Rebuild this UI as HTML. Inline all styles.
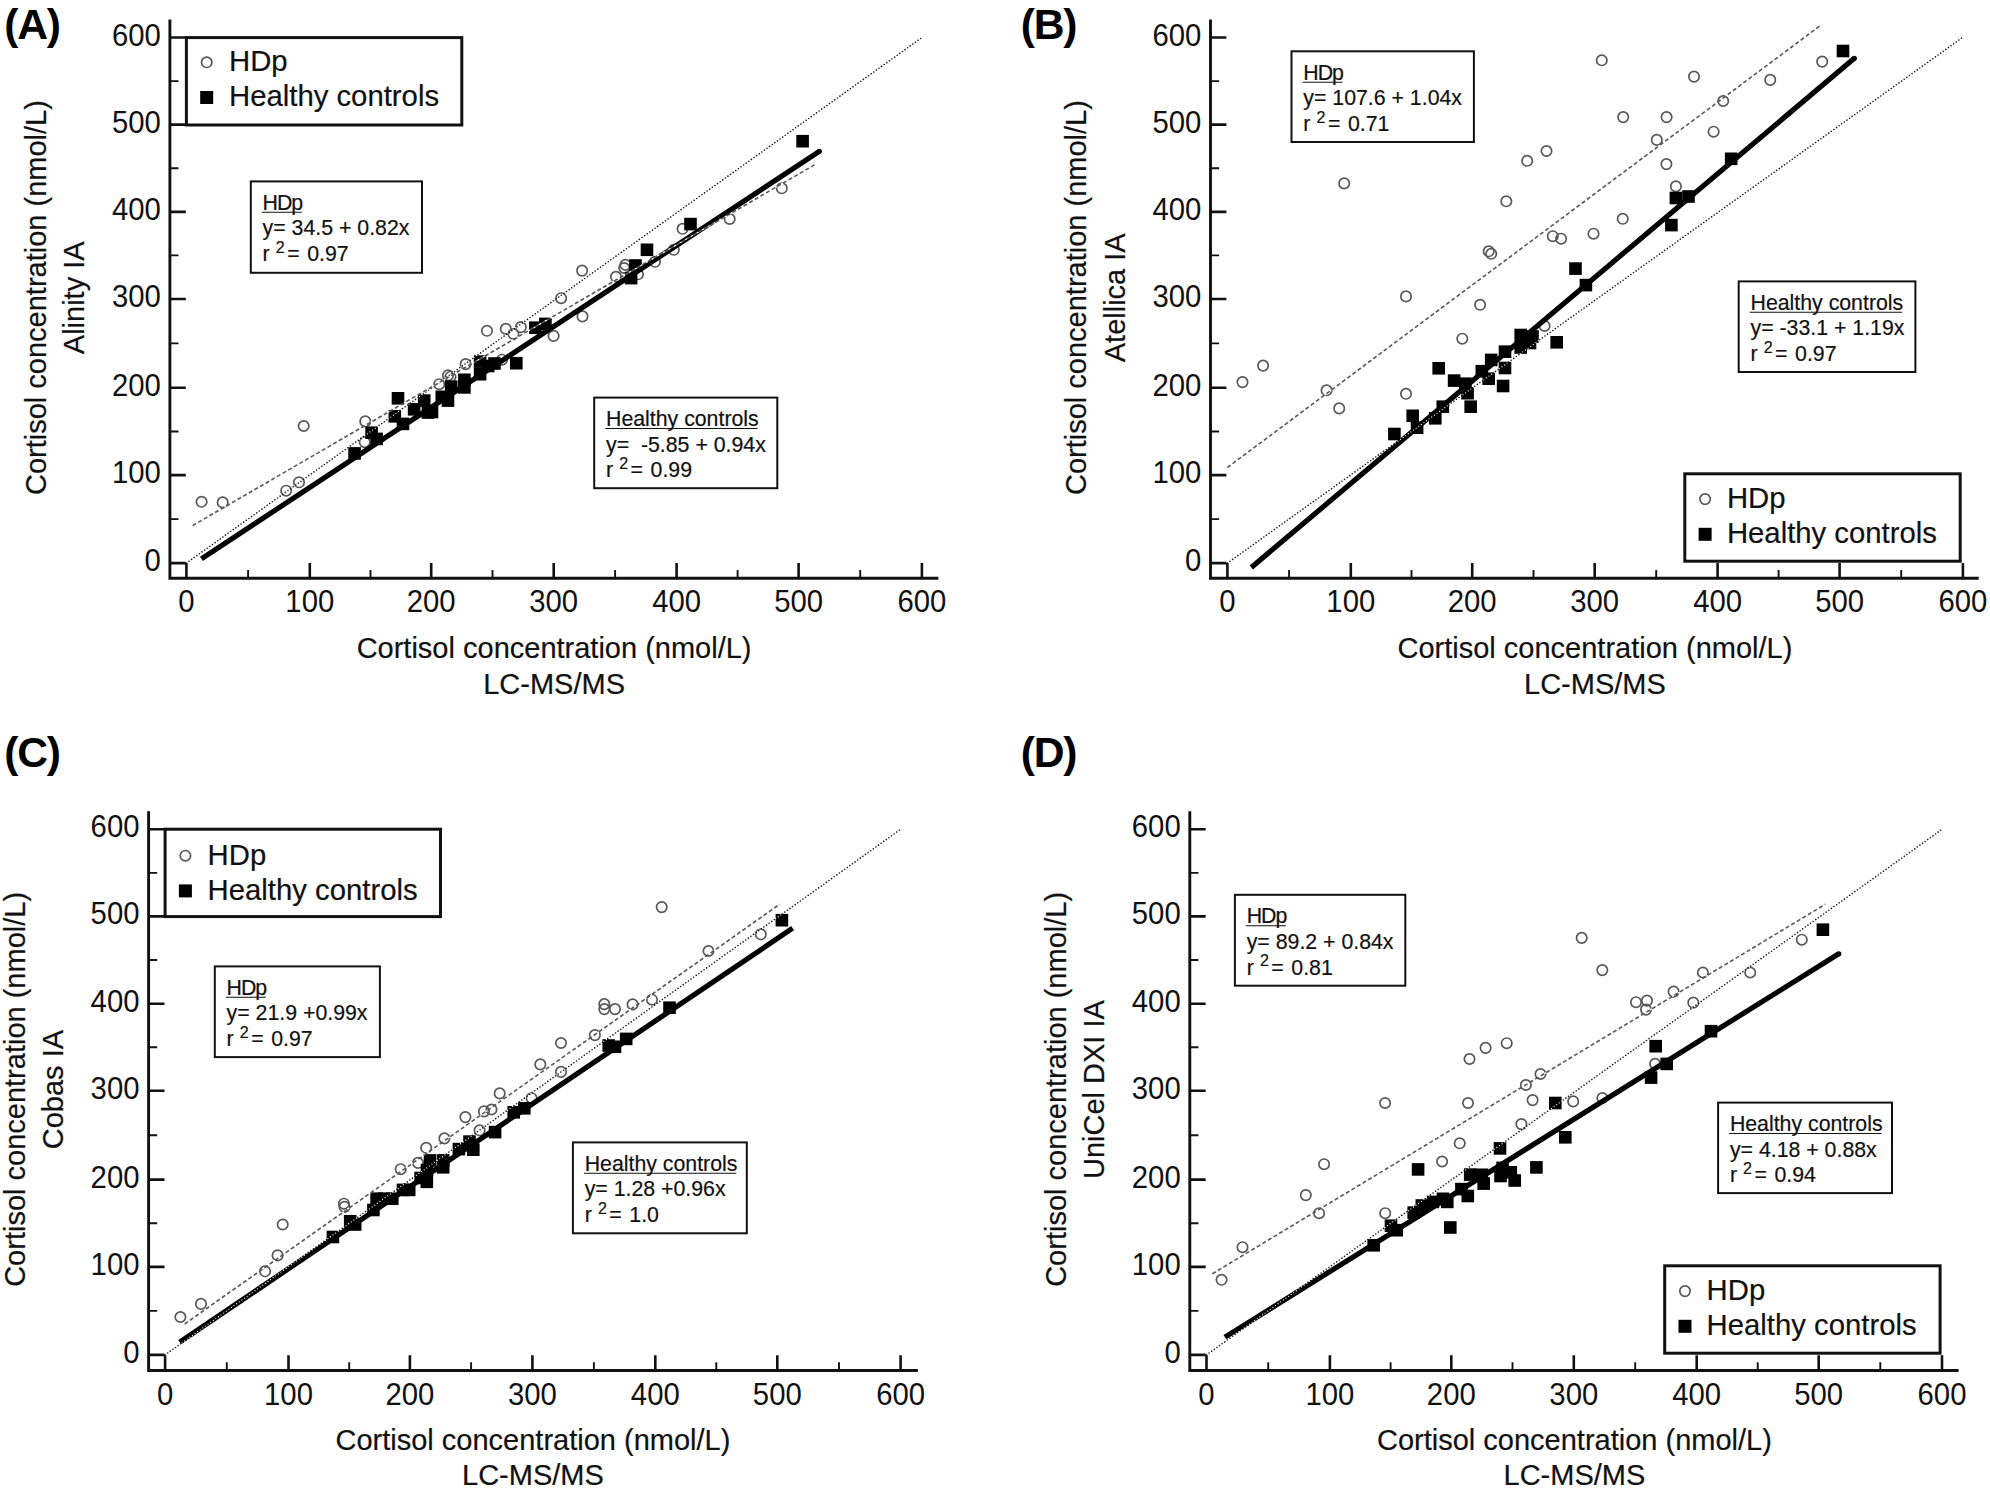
<!DOCTYPE html>
<html lang="en"><head><meta charset="utf-8"><title>Cortisol immunoassay comparison</title>
<style>html,body{margin:0;padding:0;background:#fff}body{width:1990px;height:1489px;overflow:hidden}svg{display:block}text{font-family:"Liberation Sans", Arial, Helvetica, sans-serif;fill:#111;stroke:#111;stroke-width:0.2px}.tk{font-size:30.5px;stroke:none}.tt{font-size:29px}.lg{font-size:29.3px}.eq{font-size:21.3px;white-space:pre}.pl{font-size:42.6px;font-weight:bold;fill:#000;stroke:none;letter-spacing:-1.2px}</style></head><body>
<svg width="1990" height="1489" viewBox="0 0 1990 1489">
<rect width="1990" height="1489" fill="#fff"/>
<g><g fill="none" stroke="#585858" stroke-width="1.7"><circle cx="201.6" cy="501.8" r="5.2"/><circle cx="222.7" cy="502.4" r="5.2"/><circle cx="286.2" cy="490.7" r="5.2"/><circle cx="299.0" cy="482.3" r="5.2"/><circle cx="303.7" cy="426.0" r="5.2"/><circle cx="365.3" cy="421.4" r="5.2"/><circle cx="364.7" cy="442.1" r="5.2"/><circle cx="439.2" cy="384.2" r="5.2"/><circle cx="448.0" cy="375.4" r="5.2"/><circle cx="450.5" cy="376.7" r="5.2"/><circle cx="465.6" cy="364.1" r="5.2"/><circle cx="487.0" cy="330.8" r="5.2"/><circle cx="505.8" cy="328.9" r="5.2"/><circle cx="513.4" cy="334.0" r="5.2"/><circle cx="520.9" cy="327.1" r="5.2"/><circle cx="553.6" cy="335.9" r="5.2"/><circle cx="561.1" cy="298.2" r="5.2"/><circle cx="582.5" cy="316.4" r="5.2"/><circle cx="502.0" cy="359.7" r="5.2"/><circle cx="582.1" cy="270.6" r="5.2"/><circle cx="616.0" cy="276.8" r="5.2"/><circle cx="625.4" cy="264.9" r="5.2"/><circle cx="624.2" cy="268.0" r="5.2"/><circle cx="638.0" cy="274.3" r="5.2"/><circle cx="655.0" cy="261.8" r="5.2"/><circle cx="673.8" cy="249.8" r="5.2"/><circle cx="682.6" cy="228.8" r="5.2"/><circle cx="729.7" cy="219.0" r="5.2"/><circle cx="781.8" cy="188.3" r="5.2"/></g><g fill="#000"><rect x="348.3" y="447.1" width="12.6" height="12.6"/><rect x="365.3" y="426.4" width="12.6" height="12.6"/><rect x="370.3" y="432.6" width="12.6" height="12.6"/><rect x="388.5" y="410.0" width="12.6" height="12.6"/><rect x="396.7" y="417.6" width="12.6" height="12.6"/><rect x="391.7" y="392.0" width="12.6" height="12.6"/><rect x="407.8" y="403.0" width="12.6" height="12.6"/><rect x="417.9" y="394.3" width="12.6" height="12.6"/><rect x="421.6" y="406.2" width="12.6" height="12.6"/><rect x="425.7" y="405.7" width="12.6" height="12.6"/><rect x="435.5" y="390.5" width="12.6" height="12.6"/><rect x="441.7" y="394.3" width="12.6" height="12.6"/><rect x="444.9" y="380.4" width="12.6" height="12.6"/><rect x="458.1" y="373.5" width="12.6" height="12.6"/><rect x="458.1" y="381.1" width="12.6" height="12.6"/><rect x="473.8" y="355.3" width="12.6" height="12.6"/><rect x="473.8" y="367.9" width="12.6" height="12.6"/><rect x="481.9" y="359.7" width="12.6" height="12.6"/><rect x="488.2" y="357.2" width="12.6" height="12.6"/><rect x="510.0" y="356.9" width="12.6" height="12.6"/><rect x="529.1" y="321.4" width="12.6" height="12.6"/><rect x="539.1" y="317.6" width="12.6" height="12.6"/><rect x="624.8" y="271.8" width="12.6" height="12.6"/><rect x="629.2" y="259.2" width="12.6" height="12.6"/><rect x="640.7" y="243.5" width="12.6" height="12.6"/><rect x="684.2" y="217.8" width="12.6" height="12.6"/><rect x="796.3" y="134.9" width="12.6" height="12.6"/></g><line x1="201.4" y1="558.9" x2="819.3" y2="151.3" stroke="#000" stroke-width="5.2"/><circle cx="819.3" cy="151.3" r="2.6" fill="#000"/><line x1="186.4" y1="563.1" x2="921.9" y2="37.6" stroke="#fff" stroke-width="1.3" stroke-linecap="round" stroke-dasharray="0 3.2" stroke-dashoffset="1.6"/><line x1="186.4" y1="563.1" x2="921.9" y2="37.6" stroke="#111" stroke-width="1.65" stroke-linecap="round" stroke-dasharray="0 3.2"/><line x1="192.6" y1="525.6" x2="815.6" y2="164.2" stroke="#fff" stroke-width="1.2" stroke-dasharray="2.5 4" stroke-dashoffset="-4"/><line x1="192.6" y1="525.6" x2="815.6" y2="164.2" stroke="#585858" stroke-width="1.6" stroke-dasharray="4 2.5"/><g stroke="#111" fill="none"><path d="M169.9 19.6 V578.3 H938.4" stroke-width="2.9" stroke-linejoin="miter"/><path d="M169.9 563.1 h15.9 M186.4 578.3 v-15.3 M169.9 475.1 h15.9 M309.8 578.3 v-15.3 M169.9 387.8 h15.9 M431.2 578.3 v-15.3 M169.9 299.0 h15.9 M553.7 578.3 v-15.3 M169.9 211.9 h15.9 M676.6 578.3 v-15.3 M169.9 124.6 h15.9 M798.6 578.3 v-15.3 M169.9 37.5 h15.9 M921.9 578.3 v-15.3 " stroke-width="2.6"/><path d="M169.9 519.1 h8.6 M248.1 578.3 v-8.3 M169.9 431.5 h8.6 M370.5 578.3 v-8.3 M169.9 343.4 h8.6 M492.5 578.3 v-8.3 M169.9 255.4 h8.6 M615.1 578.3 v-8.3 M169.9 168.2 h8.6 M737.6 578.3 v-8.3 M169.9 81.1 h8.6 M860.2 578.3 v-8.3 " stroke-width="1.9"/></g><text class="tk" text-anchor="end" transform="translate(160.8 571.1) scale(.961 1)">0</text><text class="tk" text-anchor="middle" transform="translate(186.4 612.3) scale(.961 1)">0</text><text class="tk" text-anchor="end" transform="translate(160.8 483.1) scale(.961 1)">100</text><text class="tk" text-anchor="middle" transform="translate(309.8 612.3) scale(.961 1)">100</text><text class="tk" text-anchor="end" transform="translate(160.8 395.8) scale(.961 1)">200</text><text class="tk" text-anchor="middle" transform="translate(431.2 612.3) scale(.961 1)">200</text><text class="tk" text-anchor="end" transform="translate(160.8 307.0) scale(.961 1)">300</text><text class="tk" text-anchor="middle" transform="translate(553.7 612.3) scale(.961 1)">300</text><text class="tk" text-anchor="end" transform="translate(160.8 219.9) scale(.961 1)">400</text><text class="tk" text-anchor="middle" transform="translate(676.6 612.3) scale(.961 1)">400</text><text class="tk" text-anchor="end" transform="translate(160.8 132.6) scale(.961 1)">500</text><text class="tk" text-anchor="middle" transform="translate(798.6 612.3) scale(.961 1)">500</text><text class="tk" text-anchor="end" transform="translate(160.8 45.5) scale(.961 1)">600</text><text class="tk" text-anchor="middle" transform="translate(921.9 612.3) scale(.961 1)">600</text><text class="tt" text-anchor="middle" x="554.1" y="658.2">Cortisol concentration (nmol/L)</text><text class="tt" text-anchor="middle" x="554.1" y="693.6">LC-MS/MS</text><text class="tt" text-anchor="middle" transform="translate(45.8 297.6) rotate(-90)">Cortisol concentration (nmol/L)</text><text class="tt" text-anchor="middle" transform="translate(84.2 297.8) rotate(-90)">Alinity IA</text><text class="pl" x="4.2" y="38.8">(A)</text><rect x="186.4" y="37.6" width="275.4" height="87.4" fill="#fff" stroke="#111" stroke-width="3"/><circle cx="206.7" cy="62.3" r="5.2" fill="none" stroke="#585858" stroke-width="1.7"/><rect x="200.2" y="91.0" width="13" height="13" fill="#000"/><text class="lg" x="229.0" y="71.1">HDp</text><text class="lg" x="229.0" y="106.3">Healthy controls</text><rect x="250.8" y="181.4" width="171.2" height="91.4" fill="#fff" stroke="#111" stroke-width="2"/><text class="eq" letter-spacing="-1" x="262.6" y="209.6">HDp</text><line x1="261.8" y1="212.3" x2="301.8" y2="212.3" stroke="#111" stroke-width="1.1"/><text class="eq" x="262.6" y="235.3" xml:space="preserve">y= 34.5 + 0.82x</text><text class="eq" y="261.2" xml:space="preserve"><tspan x="262.6">r</tspan><tspan x="275.8" dy="-8.2" font-size="16">2</tspan><tspan x="287.2" dy="8.2">=</tspan><tspan x="307.2">0.97</tspan></text><rect x="594.2" y="397.6" width="183.1" height="90.6" fill="#fff" stroke="#111" stroke-width="2"/><text class="eq" x="606.0" y="425.8">Healthy controls</text><line x1="605.2" y1="428.5" x2="757.6" y2="428.5" stroke="#111" stroke-width="1.1"/><text class="eq" x="606.0" y="451.5" xml:space="preserve">y=  -5.85 + 0.94x</text><text class="eq" y="477.4" xml:space="preserve"><tspan x="606.0">r</tspan><tspan x="619.2" dy="-8.2" font-size="16">2</tspan><tspan x="630.6" dy="8.2">=</tspan><tspan x="650.6">0.99</tspan></text></g>
<g><g fill="none" stroke="#585858" stroke-width="1.7"><circle cx="1601.8" cy="60.3" r="5.2"/><circle cx="1694.0" cy="76.6" r="5.2"/><circle cx="1770.2" cy="79.9" r="5.2"/><circle cx="1822.2" cy="61.6" r="5.2"/><circle cx="1723.2" cy="101.0" r="5.2"/><circle cx="1623.2" cy="117.1" r="5.2"/><circle cx="1666.6" cy="117.1" r="5.2"/><circle cx="1713.6" cy="131.7" r="5.2"/><circle cx="1656.8" cy="139.9" r="5.2"/><circle cx="1546.5" cy="151.0" r="5.2"/><circle cx="1527.2" cy="160.8" r="5.2"/><circle cx="1666.4" cy="164.1" r="5.2"/><circle cx="1675.9" cy="186.4" r="5.2"/><circle cx="1506.3" cy="201.3" r="5.2"/><circle cx="1622.7" cy="218.8" r="5.2"/><circle cx="1593.5" cy="233.7" r="5.2"/><circle cx="1552.8" cy="236.2" r="5.2"/><circle cx="1561.1" cy="238.7" r="5.2"/><circle cx="1488.7" cy="251.3" r="5.2"/><circle cx="1491.2" cy="253.8" r="5.2"/><circle cx="1544.6" cy="326.0" r="5.2"/><circle cx="1344.2" cy="183.4" r="5.2"/><circle cx="1406.0" cy="296.4" r="5.2"/><circle cx="1480.1" cy="304.8" r="5.2"/><circle cx="1462.3" cy="338.7" r="5.2"/><circle cx="1263.1" cy="365.6" r="5.2"/><circle cx="1242.5" cy="382.1" r="5.2"/><circle cx="1326.6" cy="390.3" r="5.2"/><circle cx="1339.2" cy="408.4" r="5.2"/><circle cx="1406.0" cy="393.8" r="5.2"/></g><g fill="#000"><rect x="1836.7" y="44.7" width="12.6" height="12.6"/><rect x="1724.9" y="152.5" width="12.6" height="12.6"/><rect x="1669.6" y="191.7" width="12.6" height="12.6"/><rect x="1682.2" y="190.2" width="12.6" height="12.6"/><rect x="1665.1" y="218.8" width="12.6" height="12.6"/><rect x="1569.2" y="262.3" width="12.6" height="12.6"/><rect x="1579.6" y="278.8" width="12.6" height="12.6"/><rect x="1550.4" y="336.0" width="12.6" height="12.6"/><rect x="1514.4" y="328.7" width="12.6" height="12.6"/><rect x="1526.2" y="330.2" width="12.6" height="12.6"/><rect x="1514.4" y="341.2" width="12.6" height="12.6"/><rect x="1523.7" y="336.7" width="12.6" height="12.6"/><rect x="1498.7" y="345.4" width="12.6" height="12.6"/><rect x="1484.9" y="353.6" width="12.6" height="12.6"/><rect x="1498.7" y="361.7" width="12.6" height="12.6"/><rect x="1475.5" y="364.9" width="12.6" height="12.6"/><rect x="1482.4" y="372.4" width="12.6" height="12.6"/><rect x="1496.8" y="379.7" width="12.6" height="12.6"/><rect x="1432.4" y="362.0" width="12.6" height="12.6"/><rect x="1447.8" y="374.3" width="12.6" height="12.6"/><rect x="1459.1" y="377.4" width="12.6" height="12.6"/><rect x="1461.3" y="386.9" width="12.6" height="12.6"/><rect x="1464.4" y="400.4" width="12.6" height="12.6"/><rect x="1436.5" y="400.4" width="12.6" height="12.6"/><rect x="1406.4" y="409.5" width="12.6" height="12.6"/><rect x="1429.0" y="412.0" width="12.6" height="12.6"/><rect x="1410.8" y="421.4" width="12.6" height="12.6"/><rect x="1388.1" y="427.7" width="12.6" height="12.6"/></g><line x1="1251.3" y1="567.5" x2="1854.3" y2="58.3" stroke="#000" stroke-width="5.2"/><circle cx="1854.3" cy="58.3" r="2.6" fill="#000"/><line x1="1227.4" y1="563.1" x2="1962.4" y2="37.6" stroke="#fff" stroke-width="1.3" stroke-linecap="round" stroke-dasharray="0 3.2" stroke-dashoffset="1.6"/><line x1="1227.4" y1="563.1" x2="1962.4" y2="37.6" stroke="#111" stroke-width="1.65" stroke-linecap="round" stroke-dasharray="0 3.2"/><line x1="1227.4" y1="467.5" x2="1821.7" y2="24.6" stroke="#fff" stroke-width="1.2" stroke-dasharray="2.5 4" stroke-dashoffset="-4"/><line x1="1227.4" y1="467.5" x2="1821.7" y2="24.6" stroke="#585858" stroke-width="1.6" stroke-dasharray="4 2.5"/><g stroke="#111" fill="none"><path d="M1210.5 19.6 V578.3 H1978.7" stroke-width="2.9" stroke-linejoin="miter"/><path d="M1210.5 563.1 h15.9 M1227.4 578.3 v-15.3 M1210.5 475.1 h15.9 M1350.8 578.3 v-15.3 M1210.5 387.8 h15.9 M1472.2 578.3 v-15.3 M1210.5 299.0 h15.9 M1594.7 578.3 v-15.3 M1210.5 211.9 h15.9 M1717.6 578.3 v-15.3 M1210.5 124.6 h15.9 M1839.6 578.3 v-15.3 M1210.5 37.5 h15.9 M1962.9 578.3 v-15.3 " stroke-width="2.6"/><path d="M1210.5 519.1 h8.6 M1289.1 578.3 v-8.3 M1210.5 431.5 h8.6 M1411.5 578.3 v-8.3 M1210.5 343.4 h8.6 M1533.5 578.3 v-8.3 M1210.5 255.4 h8.6 M1656.2 578.3 v-8.3 M1210.5 168.2 h8.6 M1778.6 578.3 v-8.3 M1210.5 81.1 h8.6 M1901.2 578.3 v-8.3 " stroke-width="1.9"/></g><text class="tk" text-anchor="end" transform="translate(1201.4 571.1) scale(.961 1)">0</text><text class="tk" text-anchor="middle" transform="translate(1227.4 612.3) scale(.961 1)">0</text><text class="tk" text-anchor="end" transform="translate(1201.4 483.1) scale(.961 1)">100</text><text class="tk" text-anchor="middle" transform="translate(1350.8 612.3) scale(.961 1)">100</text><text class="tk" text-anchor="end" transform="translate(1201.4 395.8) scale(.961 1)">200</text><text class="tk" text-anchor="middle" transform="translate(1472.2 612.3) scale(.961 1)">200</text><text class="tk" text-anchor="end" transform="translate(1201.4 307.0) scale(.961 1)">300</text><text class="tk" text-anchor="middle" transform="translate(1594.7 612.3) scale(.961 1)">300</text><text class="tk" text-anchor="end" transform="translate(1201.4 219.9) scale(.961 1)">400</text><text class="tk" text-anchor="middle" transform="translate(1717.6 612.3) scale(.961 1)">400</text><text class="tk" text-anchor="end" transform="translate(1201.4 132.6) scale(.961 1)">500</text><text class="tk" text-anchor="middle" transform="translate(1839.6 612.3) scale(.961 1)">500</text><text class="tk" text-anchor="end" transform="translate(1201.4 45.5) scale(.961 1)">600</text><text class="tk" text-anchor="middle" transform="translate(1962.9 612.3) scale(.961 1)">600</text><text class="tt" text-anchor="middle" x="1594.9" y="658.2">Cortisol concentration (nmol/L)</text><text class="tt" text-anchor="middle" x="1594.9" y="693.6">LC-MS/MS</text><text class="tt" text-anchor="middle" transform="translate(1086.4 297.6) rotate(-90)">Cortisol concentration (nmol/L)</text><text class="tt" text-anchor="middle" transform="translate(1124.8 297.8) rotate(-90)">Atellica IA</text><text class="pl" x="1020.7" y="38.8">(B)</text><rect x="1684.8" y="473.8" width="275.4" height="87.4" fill="#fff" stroke="#111" stroke-width="3"/><circle cx="1705.1" cy="499.1" r="5.2" fill="none" stroke="#585858" stroke-width="1.7"/><rect x="1698.6" y="527.8" width="13" height="13" fill="#000"/><text class="lg" x="1726.9" y="507.9">HDp</text><text class="lg" x="1726.9" y="543.1">Healthy controls</text><rect x="1291.5" y="51.3" width="182.4" height="90.7" fill="#fff" stroke="#111" stroke-width="2"/><text class="eq" letter-spacing="-1" x="1303.3" y="79.5">HDp</text><line x1="1302.5" y1="82.2" x2="1342.5" y2="82.2" stroke="#111" stroke-width="1.1"/><text class="eq" x="1303.3" y="105.2" xml:space="preserve">y= 107.6 + 1.04x</text><text class="eq" y="131.1" xml:space="preserve"><tspan x="1303.3">r</tspan><tspan x="1316.5" dy="-8.2" font-size="16">2</tspan><tspan x="1327.9" dy="8.2">=</tspan><tspan x="1347.9">0.71</tspan></text><rect x="1738.7" y="281.4" width="176.7" height="90.6" fill="#fff" stroke="#111" stroke-width="2"/><text class="eq" x="1750.5" y="309.6">Healthy controls</text><line x1="1749.7" y1="312.3" x2="1902.1" y2="312.3" stroke="#111" stroke-width="1.1"/><text class="eq" x="1750.5" y="335.3" xml:space="preserve">y= -33.1 + 1.19x</text><text class="eq" y="361.2" xml:space="preserve"><tspan x="1750.5">r</tspan><tspan x="1763.7" dy="-8.2" font-size="16">2</tspan><tspan x="1775.1" dy="8.2">=</tspan><tspan x="1795.1">0.97</tspan></text></g>
<g><g fill="none" stroke="#585858" stroke-width="1.7"><circle cx="180.4" cy="1317.0" r="5.2"/><circle cx="201.0" cy="1303.9" r="5.2"/><circle cx="265.1" cy="1271.3" r="5.2"/><circle cx="277.6" cy="1255.4" r="5.2"/><circle cx="282.7" cy="1224.5" r="5.2"/><circle cx="343.9" cy="1203.7" r="5.2"/><circle cx="344.5" cy="1206.9" r="5.2"/><circle cx="400.7" cy="1169.2" r="5.2"/><circle cx="418.0" cy="1162.9" r="5.2"/><circle cx="426.2" cy="1147.8" r="5.2"/><circle cx="444.4" cy="1138.4" r="5.2"/><circle cx="465.4" cy="1117.1" r="5.2"/><circle cx="479.6" cy="1130.3" r="5.2"/><circle cx="484.0" cy="1111.4" r="5.2"/><circle cx="491.5" cy="1109.5" r="5.2"/><circle cx="499.7" cy="1093.4" r="5.2"/><circle cx="531.6" cy="1098.2" r="5.2"/><circle cx="540.3" cy="1064.4" r="5.2"/><circle cx="561.0" cy="1043.0" r="5.2"/><circle cx="561.0" cy="1071.9" r="5.2"/><circle cx="594.9" cy="1035.1" r="5.2"/><circle cx="604.3" cy="1004.1" r="5.2"/><circle cx="604.3" cy="1009.1" r="5.2"/><circle cx="615.0" cy="1009.1" r="5.2"/><circle cx="632.6" cy="1004.4" r="5.2"/><circle cx="652.0" cy="999.7" r="5.2"/><circle cx="708.5" cy="951.0" r="5.2"/><circle cx="661.7" cy="907.1" r="5.2"/><circle cx="760.8" cy="934.3" r="5.2"/></g><g fill="#000"><rect x="326.6" y="1230.7" width="12.6" height="12.6"/><rect x="343.9" y="1215.0" width="12.6" height="12.6"/><rect x="348.9" y="1218.2" width="12.6" height="12.6"/><rect x="367.1" y="1203.7" width="12.6" height="12.6"/><rect x="370.3" y="1192.4" width="12.6" height="12.6"/><rect x="377.7" y="1192.4" width="12.6" height="12.6"/><rect x="386.0" y="1192.4" width="12.6" height="12.6"/><rect x="396.7" y="1183.6" width="12.6" height="12.6"/><rect x="402.9" y="1183.6" width="12.6" height="12.6"/><rect x="414.3" y="1171.7" width="12.6" height="12.6"/><rect x="420.5" y="1175.5" width="12.6" height="12.6"/><rect x="423.7" y="1154.1" width="12.6" height="12.6"/><rect x="420.7" y="1163.7" width="12.6" height="12.6"/><rect x="436.9" y="1154.1" width="12.6" height="12.6"/><rect x="436.9" y="1161.0" width="12.6" height="12.6"/><rect x="452.6" y="1142.8" width="12.6" height="12.6"/><rect x="463.2" y="1135.3" width="12.6" height="12.6"/><rect x="467.0" y="1143.4" width="12.6" height="12.6"/><rect x="488.8" y="1125.8" width="12.6" height="12.6"/><rect x="507.4" y="1106.0" width="12.6" height="12.6"/><rect x="518.0" y="1102.0" width="12.6" height="12.6"/><rect x="602.4" y="1039.2" width="12.6" height="12.6"/><rect x="608.7" y="1040.5" width="12.6" height="12.6"/><rect x="619.9" y="1032.6" width="12.6" height="12.6"/><rect x="663.2" y="1001.4" width="12.6" height="12.6"/><rect x="775.6" y="913.9" width="12.6" height="12.6"/></g><line x1="179.7" y1="1342.2" x2="792.6" y2="928.2" stroke="#000" stroke-width="5.2"/><line x1="165.1" y1="1354.9" x2="900.8" y2="829.2" stroke="#fff" stroke-width="1.3" stroke-linecap="round" stroke-dasharray="0 3.2" stroke-dashoffset="1.6"/><line x1="165.1" y1="1354.9" x2="900.8" y2="829.2" stroke="#111" stroke-width="1.65" stroke-linecap="round" stroke-dasharray="0 3.2"/><line x1="184.7" y1="1324.0" x2="779.9" y2="904.1" stroke="#fff" stroke-width="1.2" stroke-dasharray="2.5 4" stroke-dashoffset="-4"/><line x1="184.7" y1="1324.0" x2="779.9" y2="904.1" stroke="#585858" stroke-width="1.6" stroke-dasharray="4 2.5"/><g stroke="#111" fill="none"><path d="M148.6 811.3 V1370.5 H917.9" stroke-width="2.9" stroke-linejoin="miter"/><path d="M148.6 1354.9 h15.9 M165.1 1370.5 v-15.3 M148.6 1266.9 h15.9 M288.5 1370.5 v-15.3 M148.6 1179.6 h15.9 M409.9 1370.5 v-15.3 M148.6 1090.8 h15.9 M532.4 1370.5 v-15.3 M148.6 1003.7 h15.9 M655.3 1370.5 v-15.3 M148.6 916.4 h15.9 M777.3 1370.5 v-15.3 M148.6 829.3 h15.9 M900.6 1370.5 v-15.3 " stroke-width="2.6"/><path d="M148.6 1310.9 h8.6 M226.8 1370.5 v-8.3 M148.6 1223.2 h8.6 M349.2 1370.5 v-8.3 M148.6 1135.2 h8.6 M471.1 1370.5 v-8.3 M148.6 1047.2 h8.6 M593.9 1370.5 v-8.3 M148.6 960.0 h8.6 M716.3 1370.5 v-8.3 M148.6 872.9 h8.6 M839.0 1370.5 v-8.3 " stroke-width="1.9"/></g><text class="tk" text-anchor="end" transform="translate(139.5 1362.9) scale(.961 1)">0</text><text class="tk" text-anchor="middle" transform="translate(165.1 1404.5) scale(.961 1)">0</text><text class="tk" text-anchor="end" transform="translate(139.5 1274.9) scale(.961 1)">100</text><text class="tk" text-anchor="middle" transform="translate(288.5 1404.5) scale(.961 1)">100</text><text class="tk" text-anchor="end" transform="translate(139.5 1187.6) scale(.961 1)">200</text><text class="tk" text-anchor="middle" transform="translate(409.9 1404.5) scale(.961 1)">200</text><text class="tk" text-anchor="end" transform="translate(139.5 1098.8) scale(.961 1)">300</text><text class="tk" text-anchor="middle" transform="translate(532.4 1404.5) scale(.961 1)">300</text><text class="tk" text-anchor="end" transform="translate(139.5 1011.7) scale(.961 1)">400</text><text class="tk" text-anchor="middle" transform="translate(655.3 1404.5) scale(.961 1)">400</text><text class="tk" text-anchor="end" transform="translate(139.5 924.4) scale(.961 1)">500</text><text class="tk" text-anchor="middle" transform="translate(777.3 1404.5) scale(.961 1)">500</text><text class="tk" text-anchor="end" transform="translate(139.5 837.3) scale(.961 1)">600</text><text class="tk" text-anchor="middle" transform="translate(900.6 1404.5) scale(.961 1)">600</text><text class="tt" text-anchor="middle" x="532.9" y="1450.4">Cortisol concentration (nmol/L)</text><text class="tt" text-anchor="middle" x="532.9" y="1484.8">LC-MS/MS</text><text class="tt" text-anchor="middle" transform="translate(24.5 1089.4) rotate(-90)">Cortisol concentration (nmol/L)</text><text class="tt" text-anchor="middle" transform="translate(62.9 1089.6) rotate(-90)">Cobas IA</text><text class="pl" x="4.2" y="767.2">(C)</text><rect x="165.1" y="829.2" width="275.4" height="87.4" fill="#fff" stroke="#111" stroke-width="3"/><circle cx="185.4" cy="855.7" r="5.2" fill="none" stroke="#585858" stroke-width="1.7"/><rect x="178.9" y="884.4" width="13" height="13" fill="#000"/><text class="lg" x="207.6" y="864.5">HDp</text><text class="lg" x="207.6" y="899.7">Healthy controls</text><rect x="214.8" y="966.4" width="165.1" height="90.7" fill="#fff" stroke="#111" stroke-width="2"/><text class="eq" letter-spacing="-1" x="226.6" y="994.6">HDp</text><line x1="225.8" y1="997.3" x2="265.8" y2="997.3" stroke="#111" stroke-width="1.1"/><text class="eq" x="226.6" y="1020.3" xml:space="preserve">y= 21.9 +0.99x</text><text class="eq" y="1046.2" xml:space="preserve"><tspan x="226.6">r</tspan><tspan x="239.8" dy="-8.2" font-size="16">2</tspan><tspan x="251.2" dy="8.2">=</tspan><tspan x="271.2">0.97</tspan></text><rect x="572.9" y="1142.4" width="173.9" height="90.9" fill="#fff" stroke="#111" stroke-width="2"/><text class="eq" x="584.7" y="1170.6">Healthy controls</text><line x1="583.9" y1="1173.3" x2="736.3" y2="1173.3" stroke="#111" stroke-width="1.1"/><text class="eq" x="584.7" y="1196.3" xml:space="preserve">y= 1.28 +0.96x</text><text class="eq" y="1222.2" xml:space="preserve"><tspan x="584.7">r</tspan><tspan x="597.9" dy="-8.2" font-size="16">2</tspan><tspan x="609.3" dy="8.2">=</tspan><tspan x="629.3">1.0</tspan></text></g>
<g><g fill="none" stroke="#585858" stroke-width="1.7"><circle cx="1221.6" cy="1279.8" r="5.2"/><circle cx="1242.5" cy="1247.2" r="5.2"/><circle cx="1305.8" cy="1195.1" r="5.2"/><circle cx="1319.1" cy="1213.2" r="5.2"/><circle cx="1324.1" cy="1164.2" r="5.2"/><circle cx="1385.2" cy="1213.2" r="5.2"/><circle cx="1442.1" cy="1161.5" r="5.2"/><circle cx="1459.7" cy="1143.3" r="5.2"/><circle cx="1385.1" cy="1103.0" r="5.2"/><circle cx="1468.0" cy="1103.0" r="5.2"/><circle cx="1521.4" cy="1124.1" r="5.2"/><circle cx="1525.9" cy="1085.0" r="5.2"/><circle cx="1532.6" cy="1100.1" r="5.2"/><circle cx="1573.2" cy="1101.4" r="5.2"/><circle cx="1602.4" cy="1098.0" r="5.2"/><circle cx="1581.7" cy="937.9" r="5.2"/><circle cx="1602.3" cy="970.1" r="5.2"/><circle cx="1801.8" cy="939.7" r="5.2"/><circle cx="1750.2" cy="972.5" r="5.2"/><circle cx="1702.9" cy="972.5" r="5.2"/><circle cx="1673.6" cy="991.6" r="5.2"/><circle cx="1693.3" cy="1002.6" r="5.2"/><circle cx="1636.0" cy="1002.2" r="5.2"/><circle cx="1647.0" cy="1000.6" r="5.2"/><circle cx="1646.0" cy="1009.6" r="5.2"/><circle cx="1506.7" cy="1043.2" r="5.2"/><circle cx="1485.6" cy="1047.9" r="5.2"/><circle cx="1469.5" cy="1059.0" r="5.2"/><circle cx="1540.5" cy="1074.0" r="5.2"/><circle cx="1655.1" cy="1063.9" r="5.2"/></g><g fill="#000"><rect x="1367.4" y="1239.0" width="12.6" height="12.6"/><rect x="1384.7" y="1219.4" width="12.6" height="12.6"/><rect x="1390.4" y="1223.9" width="12.6" height="12.6"/><rect x="1407.4" y="1206.3" width="12.6" height="12.6"/><rect x="1411.8" y="1163.1" width="12.6" height="12.6"/><rect x="1415.5" y="1199.2" width="12.6" height="12.6"/><rect x="1426.6" y="1195.6" width="12.6" height="12.6"/><rect x="1436.7" y="1192.5" width="12.6" height="12.6"/><rect x="1441.0" y="1195.6" width="12.6" height="12.6"/><rect x="1444.0" y="1221.2" width="12.6" height="12.6"/><rect x="1455.1" y="1182.8" width="12.6" height="12.6"/><rect x="1461.5" y="1189.7" width="12.6" height="12.6"/><rect x="1463.9" y="1168.3" width="12.6" height="12.6"/><rect x="1475.6" y="1168.5" width="12.6" height="12.6"/><rect x="1477.4" y="1177.3" width="12.6" height="12.6"/><rect x="1493.7" y="1142.1" width="12.6" height="12.6"/><rect x="1494.2" y="1169.7" width="12.6" height="12.6"/><rect x="1496.3" y="1161.6" width="12.6" height="12.6"/><rect x="1504.5" y="1166.0" width="12.6" height="12.6"/><rect x="1508.4" y="1174.2" width="12.6" height="12.6"/><rect x="1530.1" y="1161.1" width="12.6" height="12.6"/><rect x="1549.0" y="1096.7" width="12.6" height="12.6"/><rect x="1559.0" y="1131.0" width="12.6" height="12.6"/><rect x="1816.6" y="923.4" width="12.6" height="12.6"/><rect x="1704.7" y="1024.9" width="12.6" height="12.6"/><rect x="1649.4" y="1039.9" width="12.6" height="12.6"/><rect x="1660.4" y="1057.6" width="12.6" height="12.6"/><rect x="1644.8" y="1071.3" width="12.6" height="12.6"/></g><line x1="1224.9" y1="1337.1" x2="1838.8" y2="953.8" stroke="#000" stroke-width="5.2"/><circle cx="1838.8" cy="953.8" r="2.6" fill="#000"/><line x1="1206.5" y1="1354.9" x2="1942.3" y2="829.2" stroke="#fff" stroke-width="1.3" stroke-linecap="round" stroke-dasharray="0 3.2" stroke-dashoffset="1.6"/><line x1="1206.5" y1="1354.9" x2="1942.3" y2="829.2" stroke="#111" stroke-width="1.65" stroke-linecap="round" stroke-dasharray="0 3.2"/><line x1="1212.3" y1="1273.8" x2="1825.3" y2="904.3" stroke="#fff" stroke-width="1.2" stroke-dasharray="2.5 4" stroke-dashoffset="-4"/><line x1="1212.3" y1="1273.8" x2="1825.3" y2="904.3" stroke="#585858" stroke-width="1.6" stroke-dasharray="4 2.5"/><g stroke="#111" fill="none"><path d="M1189.8 811.3 V1370.5 H1958.6" stroke-width="2.9" stroke-linejoin="miter"/><path d="M1189.8 1354.9 h15.9 M1206.5 1370.5 v-15.3 M1189.8 1266.9 h15.9 M1329.9 1370.5 v-15.3 M1189.8 1179.6 h15.9 M1451.3 1370.5 v-15.3 M1189.8 1090.8 h15.9 M1573.8 1370.5 v-15.3 M1189.8 1003.7 h15.9 M1696.7 1370.5 v-15.3 M1189.8 916.4 h15.9 M1818.7 1370.5 v-15.3 M1189.8 829.3 h15.9 M1942.0 1370.5 v-15.3 " stroke-width="2.6"/><path d="M1189.8 1310.9 h8.6 M1268.2 1370.5 v-8.3 M1189.8 1223.2 h8.6 M1390.6 1370.5 v-8.3 M1189.8 1135.2 h8.6 M1512.5 1370.5 v-8.3 M1189.8 1047.2 h8.6 M1635.2 1370.5 v-8.3 M1189.8 960.0 h8.6 M1757.7 1370.5 v-8.3 M1189.8 872.9 h8.6 M1880.3 1370.5 v-8.3 " stroke-width="1.9"/></g><text class="tk" text-anchor="end" transform="translate(1180.7 1362.9) scale(.961 1)">0</text><text class="tk" text-anchor="middle" transform="translate(1206.5 1404.5) scale(.961 1)">0</text><text class="tk" text-anchor="end" transform="translate(1180.7 1274.9) scale(.961 1)">100</text><text class="tk" text-anchor="middle" transform="translate(1329.9 1404.5) scale(.961 1)">100</text><text class="tk" text-anchor="end" transform="translate(1180.7 1187.6) scale(.961 1)">200</text><text class="tk" text-anchor="middle" transform="translate(1451.3 1404.5) scale(.961 1)">200</text><text class="tk" text-anchor="end" transform="translate(1180.7 1098.8) scale(.961 1)">300</text><text class="tk" text-anchor="middle" transform="translate(1573.8 1404.5) scale(.961 1)">300</text><text class="tk" text-anchor="end" transform="translate(1180.7 1011.7) scale(.961 1)">400</text><text class="tk" text-anchor="middle" transform="translate(1696.7 1404.5) scale(.961 1)">400</text><text class="tk" text-anchor="end" transform="translate(1180.7 924.4) scale(.961 1)">500</text><text class="tk" text-anchor="middle" transform="translate(1818.7 1404.5) scale(.961 1)">500</text><text class="tk" text-anchor="end" transform="translate(1180.7 837.3) scale(.961 1)">600</text><text class="tk" text-anchor="middle" transform="translate(1942.0 1404.5) scale(.961 1)">600</text><text class="tt" text-anchor="middle" x="1574.4" y="1450.4">Cortisol concentration (nmol/L)</text><text class="tt" text-anchor="middle" x="1574.4" y="1484.8">LC-MS/MS</text><text class="tt" text-anchor="middle" transform="translate(1065.7 1089.4) rotate(-90)">Cortisol concentration (nmol/L)</text><text class="tt" text-anchor="middle" transform="translate(1104.1 1089.6) rotate(-90)">UniCel DXI IA</text><text class="pl" x="1020.7" y="767.2">(D)</text><rect x="1664.7" y="1265.8" width="275.4" height="87.4" fill="#fff" stroke="#111" stroke-width="3"/><circle cx="1685.0" cy="1291.1" r="5.2" fill="none" stroke="#585858" stroke-width="1.7"/><rect x="1678.5" y="1319.8" width="13" height="13" fill="#000"/><text class="lg" x="1706.6" y="1299.9">HDp</text><text class="lg" x="1706.6" y="1335.1">Healthy controls</text><rect x="1234.9" y="894.8" width="170.4" height="90.9" fill="#fff" stroke="#111" stroke-width="2"/><text class="eq" letter-spacing="-1" x="1246.7" y="923.0">HDp</text><line x1="1245.9" y1="925.7" x2="1285.9" y2="925.7" stroke="#111" stroke-width="1.1"/><text class="eq" x="1246.7" y="948.7" xml:space="preserve">y= 89.2 + 0.84x</text><text class="eq" y="974.6" xml:space="preserve"><tspan x="1246.7">r</tspan><tspan x="1259.9" dy="-8.2" font-size="16">2</tspan><tspan x="1271.3" dy="8.2">=</tspan><tspan x="1291.3">0.81</tspan></text><rect x="1718.1" y="1102.6" width="173.9" height="90.5" fill="#fff" stroke="#111" stroke-width="2"/><text class="eq" x="1729.9" y="1130.8">Healthy controls</text><line x1="1729.1" y1="1133.5" x2="1881.5" y2="1133.5" stroke="#111" stroke-width="1.1"/><text class="eq" x="1729.9" y="1156.5" xml:space="preserve">y= 4.18 + 0.88x</text><text class="eq" y="1182.4" xml:space="preserve"><tspan x="1729.9">r</tspan><tspan x="1743.1" dy="-8.2" font-size="16">2</tspan><tspan x="1754.5" dy="8.2">=</tspan><tspan x="1774.5">0.94</tspan></text></g>
</svg></body></html>
